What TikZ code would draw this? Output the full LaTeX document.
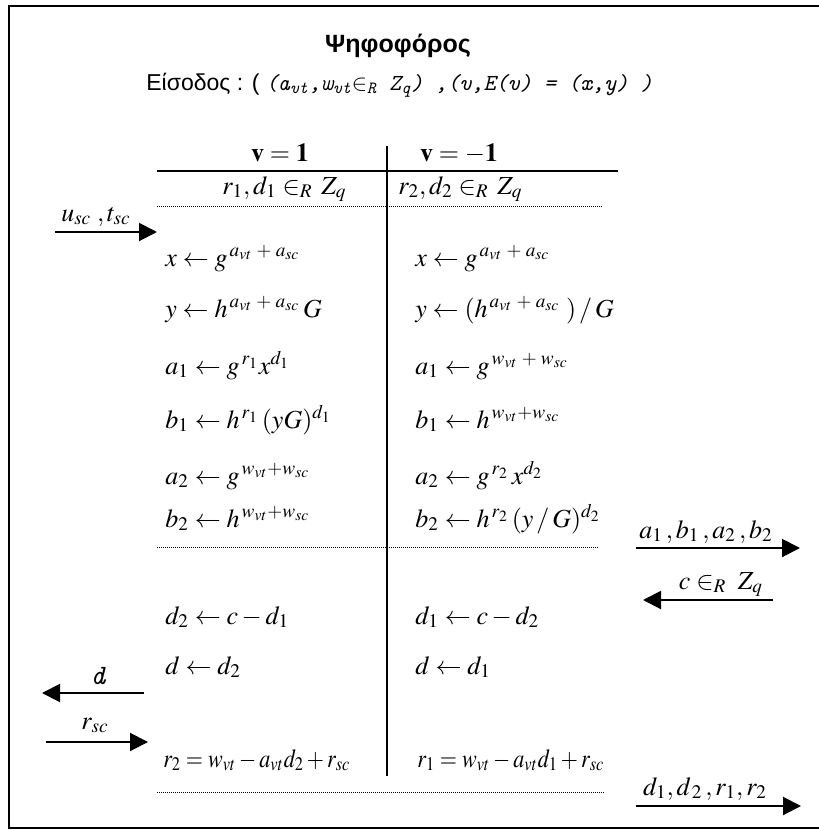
\documentclass[tikz,border=0pt]{standalone}
\usepackage{mathptmx}
\usepackage{fontspec}
\setmainfont{Liberation Serif}
\setsansfont{Liberation Sans}
\usetikzlibrary{arrows.meta, positioning}

\begin{document}
\begin{tikzpicture}[x=0.5pt, y=-0.5pt,
    eqn/.style={anchor=base west, inner sep=0pt, font=\fontsize{13}{15}\selectfont},
    lbl/.style={anchor=base, inner sep=0pt, font=\fontsize{13}{15}\selectfont},
    msg/.style={line width=1pt, -{Triangle[length=9pt, width=9pt]}},
    sep/.style={line width=0.5pt, dash pattern=on 0.5pt off 0.5pt}]
    \useasboundingbox (0,0) rectangle (819,830);
    % Frame
    \draw [line width=0.9pt] (819,6) -- (9,6) -- (9,828) -- (819,828);

    % Heading
    \node [anchor=base, inner sep=0pt, font=\sffamily\bfseries\fontsize{12.5}{14}\selectfont] (title) at (398,52) {Ψηφοφόρος};
    \node [anchor=base west, inner sep=0pt] (input) at (146,90) {{\sffamily\fontsize{11.5}{13}\selectfont Είσοδος : ( }{\ttfamily\itshape\fontsize{11.5}{13}\selectfont (a\textsubscript{vt},w\textsubscript{vt}$\in$\textsubscript{R} Z\textsubscript{q}) ,(v,E(v) = (x,y) )}};

    % Table head
    \node [lbl] (vone) at (280,161) {$\mathbf{v = 1}$};
    \node [lbl] (vmone) at (459,161) {$\mathbf{v = -1}$};
    \coordinate (headL) at (157,171);
    \coordinate (headR) at (618,171);
    \coordinate (colT) at (387,146);
    \coordinate (colB) at (387,776);
    \draw [line width=1pt] (headL) -- (headR);
    \draw [line width=1pt] (colT) -- (colB);
    \node [eqn] (choose1) at (222,194) {$r_1, d_1 \in_R\, Z_q$};
    \node [eqn] (choose2) at (398,194) {$r_2, d_2 \in_R\, Z_q$};
    \coordinate (sepAL) at (157,206);
    \coordinate (sepAR) at (603,206);
    \draw [sep] (sepAL) -- (sepAR);

    % Commitments, v = 1
    \node [eqn] (lx) at (165,266) {$x \leftarrow g^{\,a_{vt}\;+\;a_{sc}}$};
    \node [eqn] (ly) at (165,317) {$y \leftarrow h^{\,a_{vt}\;+\;a_{sc}}\,G$};
    \node [eqn] (la1) at (165,374) {$a_1 \leftarrow g^{\,r_1}x^{d_1}$};
    \node [eqn] (lb1) at (165,428) {$b_1 \leftarrow h^{\,r_1}\,(yG)^{d_1}$};
    \node [eqn] (la2) at (165,484) {$a_2 \leftarrow g^{\,w_{vt}+w_{sc}}$};
    \node [eqn] (lb2) at (165,527) {$b_2 \leftarrow h^{\,w_{vt}+w_{sc}}$};

    % Commitments, v = -1
    \node [eqn] (rx) at (415,266) {$x \leftarrow g^{\,a_{vt}\;+\;a_{sc}}$};
    \node [eqn] (ry) at (415,317) {$y \leftarrow (h^{\,a_{vt}\;+\;a_{sc}}\;)\,/\,G$};
    \node [eqn] (ra1) at (415,374) {$a_1 \leftarrow g^{\,w_{vt}\;+\;w_{sc}}$};
    \node [eqn] (rb1) at (415,428) {$b_1 \leftarrow h^{\,w_{vt}+w_{sc}}$};
    \node [eqn] (ra2) at (415,484) {$a_2 \leftarrow g^{\,r_2}\,x^{d_2}$};
    \node [eqn] (rb2) at (415,527) {$b_2 \leftarrow h^{\,r_2}\,(y\,/\,G)^{d_2}$};
    \coordinate (sepBL) at (157,547);
    \coordinate (sepBR) at (598,547);
    \draw [sep] (sepBL) -- (sepBR);

    % Responses
    \node [eqn] (ld2) at (165,624) {$d_2 \leftarrow c - d_1$};
    \node [eqn] (rd1) at (415,624) {$d_1 \leftarrow c - d_2$};
    \node [eqn] (ld) at (165,674) {$d \leftarrow d_2$};
    \node [eqn] (rd) at (415,674) {$d \leftarrow d_1$};
    \node [eqn] (lr2) at (163,767) {\scalebox{0.85}[1]{$r_2 = w_{vt} - a_{vt}d_2 + r_{sc}$}};
    \node [eqn] (rr1) at (417,767) {\scalebox{0.85}[1]{$r_1 = w_{vt} - a_{vt}d_1 + r_{sc}$}};
    \coordinate (sepCL) at (157,792);
    \coordinate (sepCR) at (605,792);
    \draw [sep] (sepCL) -- (sepCR);

    % Messages
    \coordinate (uFrom) at (55,232);
    \coordinate (uTo) at (157,232);
    \draw [msg] (uFrom) -- (uTo);
    \node [lbl] (ulbl) at (96,221) {$u_{sc}\;, t_{sc}$};

    \coordinate (aFrom) at (636,548);
    \coordinate (aTo) at (800,548);
    \draw [msg] (aFrom) -- (aTo);
    \node [lbl] (albl) at (706,538) {$a_1\,, b_1\,, a_2\,, b_2$};

    \coordinate (cFrom) at (773,600);
    \coordinate (cTo) at (643,600);
    \draw [msg] (cFrom) -- (cTo);
    \node [lbl] (clbl) at (721,589) {$c \in_R\; Z_q$};

    \coordinate (dFrom) at (144,693);
    \coordinate (dTo) at (42,693);
    \draw [msg] (dFrom) -- (dTo);
    \node [anchor=base, inner sep=0pt, font=\ttfamily\itshape\fontsize{14}{16}\selectfont] (dlbl) at (98,684) {d};

    \coordinate (rFrom) at (46,742);
    \coordinate (rTo) at (148,742);
    \draw [msg] (rFrom) -- (rTo);
    \node [lbl] (rlbl) at (95,729) {$r_{sc}$};

    \coordinate (fFrom) at (636,806);
    \coordinate (fTo) at (801,806);
    \draw [msg] (fFrom) -- (fTo);
    \node [lbl] (flbl) at (705,795) {$d_1, d_{\,2}\,, r_1, r_2$};
\end{tikzpicture}
\end{document}
